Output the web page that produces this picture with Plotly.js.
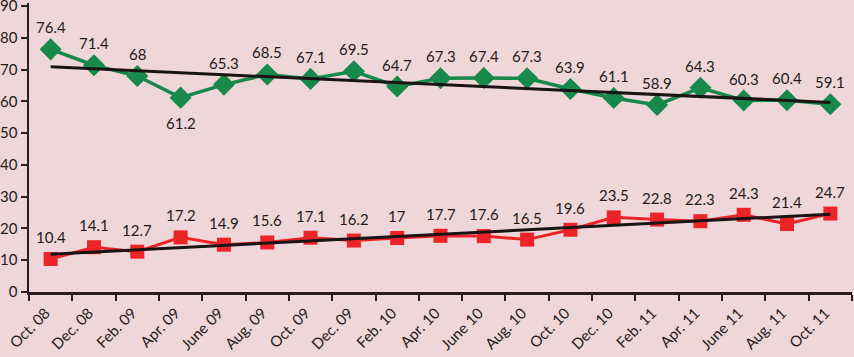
<!DOCTYPE html>
<html><head><meta charset="utf-8">
<script src="https://cdn.plot.ly/plotly-3.0.1.min.js"></script>
<style>html,body{margin:0;padding:0;background:#efd6d8;}#chart{width:854px;height:357px;}</style>
</head><body><div id="chart"></div>
<script>
const categories = ["Oct. 08","Dec. 08","Feb. 09","Apr. 09","June 09","Aug. 09","Oct. 09","Dec. 09","Feb. 10","Apr. 10","June 10","Aug. 10","Oct. 10","Dec. 10","Feb. 11","Apr. 11","June 11","Aug. 11","Oct. 11"];
const greenValues = [76.4,71.4,68,61.2,65.3,68.5,67.1,69.5,64.7,67.3,67.4,67.3,63.9,61.1,58.9,64.3,60.3,60.4,59.1];
const redValues = [10.4,14.1,12.7,17.2,14.9,15.6,17.1,16.2,17,17.7,17.6,16.5,19.6,23.5,22.8,22.3,24.3,21.4,24.7];
const greenTrend = [70.9,59.7];
const redTrend = [11.9,24.5];
const yTicks = [0,10,20,30,40,50,60,70,80,90];
const trendX = [categories[0], categories[categories.length-1]];

const font = "Lato, 'Open Sans', sans-serif";
const textColor = "#231a1a";

const traces = [
  {x: categories, y: greenValues, type: 'scatter', mode: 'lines+markers',
   line: {color: '#17894a', width: 3.5},
   marker: {symbol: 'diamond', size: 17, color: '#17894a'}},
  {x: categories, y: redValues, type: 'scatter', mode: 'lines+markers',
   line: {color: '#ec2428', width: 3},
   marker: {symbol: 'square', size: 14, color: '#ec2428'}},
  {x: trendX, y: greenTrend, type: 'scatter', mode: 'lines', line: {color: '#1a1414', width: 3}},
  {x: trendX, y: redTrend, type: 'scatter', mode: 'lines', line: {color: '#1a1414', width: 3}}
];

const annotations = [];
greenValues.forEach((v, i) => {
  annotations.push({x: categories[i], y: v, text: String(v), showarrow: false,
    yshift: i === 3 ? -25 : 22, font: {family: font, size: 15, color: textColor}});
});
redValues.forEach((v, i) => {
  annotations.push({x: categories[i], y: v, text: String(v), showarrow: false,
    yshift: 22, font: {family: font, size: 15, color: textColor}});
});

const layout = {
  width: 854, height: 357,
  margin: {l: 29, r: 2, t: 3, b: 65},
  paper_bgcolor: '#efd6d8', plot_bgcolor: '#efd6d8',
  showlegend: false,
  font: {family: font, color: textColor},
  xaxis: {type: 'category', categoryorder: 'array', categoryarray: categories,
    tickson: 'boundaries', ticks: 'outside', ticklen: 6, tickwidth: 2, tickcolor: '#2b1d1d',
    showline: true, linecolor: '#2b1d1d', linewidth: 2.5, showgrid: false, zeroline: false,
    ticklabelstandoff: 4, ticklabelshift: -5,
    tickangle: -45, tickfont: {family: font, size: 15, color: textColor}, range: [-0.5, 18.5]},
  yaxis: {range: [0, 91], tickvals: yTicks, ticks: 'outside', ticklen: 6, tickwidth: 2, tickcolor: '#2b1d1d',
    showline: true, linecolor: '#2b1d1d', linewidth: 2.5, showgrid: false, zeroline: false,
    ticklabeloverflow: 'allow',
    tickfont: {family: font, size: 15, color: textColor}},
  annotations: annotations
};

Plotly.newPlot('chart', traces, layout, {displayModeBar: false, staticPlot: true});
</script></body></html>
